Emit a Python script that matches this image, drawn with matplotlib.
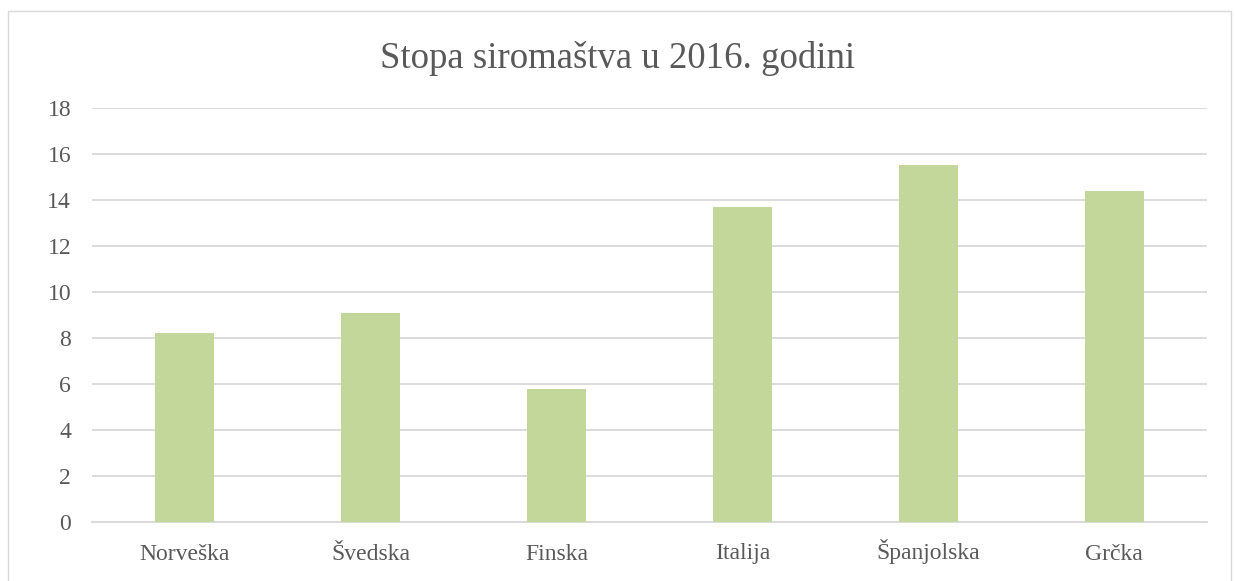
import matplotlib
matplotlib.use('Agg')
import matplotlib.pyplot as plt
from matplotlib.patches import Rectangle

countries = ['Norveška', 'Švedska', 'Finska', 'Italija', 'Španjolska', 'Grčka']
poverty_rate = [8.2, 9.1, 5.8, 13.7, 15.5, 14.4]
yticks = [0, 2, 4, 6, 8, 10, 12, 14, 16, 18]

plt.rcParams['font.family'] = ['Liberation Serif', 'DejaVu Serif']

fig = plt.figure(figsize=(12.35, 5.81), dpi=100)
# chart frame border
fig.patches.append(Rectangle((8 / 1235, -0.01), 1223 / 1235, 1 - 11 / 581 + 0.01,
                             transform=fig.transFigure, fill=False,
                             edgecolor='#D9D9D9', linewidth=1))

ax = fig.add_axes([92 / 1235, 1 - 522 / 581, (1207 - 92) / 1235, (522 - 108) / 581])
ax.bar(range(len(countries)), poverty_rate, width=0.317, color='#C4D79B', zorder=3)

ax.set_ylim(0, 18)
ax.set_xlim(-0.5, len(countries) - 0.5)
ax.set_yticks(yticks)
ax.set_xticks(range(len(countries)))
ax.set_xticklabels(countries, va='baseline')
ax.tick_params(axis='both', length=0, labelsize=17, colors='#595959')
ax.tick_params(axis='x', pad=27)
ax.tick_params(axis='y', pad=15)
ax.grid(axis='y', color='#D9D9D9', linewidth=1.3, zorder=0)
for side in ['top', 'right', 'left']:
    ax.spines[side].set_visible(False)
ax.spines['bottom'].set_color('#D9D9D9')
ax.spines['bottom'].set_linewidth(1.3)

fig.text(0.5, 1 - 58 / 581, 'Stopa siromaštva u 2016. godini', ha='center', va='center',
         fontsize=26.5, color='#595959')

fig.savefig('out.png', dpi=100)
